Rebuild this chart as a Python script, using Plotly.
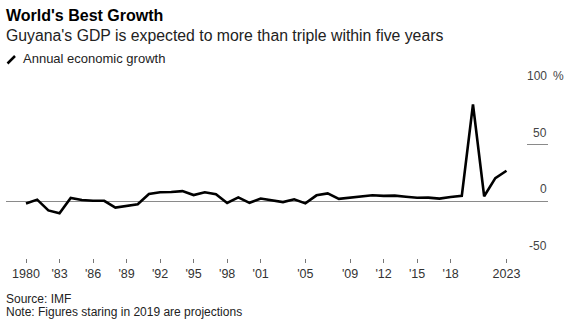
import plotly.graph_objects as go

# ---- data ----
years = list(range(1980, 2024))
growth = [
    -2.0, 1.5, -8.0, -10.5, 3.0, 1.2, 0.5, 0.5, -5.5, -4.0,
    -2.5, 6.5, 8.0, 8.3, 9.0, 5.5, 8.0, 6.2, -1.5, 3.5,
    -1.3, 2.5, 1.2, -0.7, 1.8, -1.8, 5.3, 7.0, 2.2, 3.3,
    4.4, 5.4, 4.8, 5.0, 4.0, 3.2, 3.3, 2.4, 3.8, 4.8,
    85.5, 4.5, 20.5, 27.0,
]
x_tickvals = [1980, 1983, 1986, 1989, 1992, 1995, 1998, 2001, 2005, 2009, 2012, 2015, 2018, 2023]
x_ticktext = ["1980", "'83", "'86", "'89", "'92", "'95", "'98", "'01", "'05", "'09", "'12", "'15", "'18", "2023"]
y_tickvals = [-50, 0, 50, 100]
y_ticktext = ["-50", "0", "50", "100"]
y_unit = "%"

title = "<b>World's Best Growth</b>"
subtitle = "Guyana's GDP is expected to more than triple within five years"
legend_label = "Annual economic growth"
source = "Source: IMF"
note = "Note: Figures staring in 2019 are projections"

# ---- layout geometry (pixels) ----
W, H = 568, 335
L, R = 6, 20
T, B = 88, 77
plot_w = W - L - R
plot_h = H - T - B


def py(y_px):
    return (H - B - y_px) / plot_h


def px(x_px):
    return (x_px - L) / plot_w


FONT = "Liberation Sans, Arial, sans-serif"

fig = go.Figure()
fig.add_trace(go.Scatter(
    x=years, y=growth, mode="lines",
    line=dict(color="#000000", width=2.6),
    showlegend=False, hoverinfo="x+y",
))

annotations = []
for v, lab in zip(y_tickvals, y_ticktext):
    annotations.append(dict(
        x=1, xref="paper", y=v, yref="y", text=lab, showarrow=False,
        xanchor="right", yanchor="middle", yshift=12, borderpad=0,
        font=dict(family=FONT, size=12, color="#444444"),
    ))
annotations.append(dict(
    x=1, xref="paper", y=y_tickvals[-1], yref="y", text=y_unit, showarrow=False,
    xanchor="left", yanchor="middle", yshift=12, xshift=4, borderpad=0,
    font=dict(family=FONT, size=12, color="#444444"),
))
annotations += [
    dict(x=px(5), y=py(15.5), xref="paper", yref="paper", text=title, showarrow=False,
         xanchor="left", yanchor="middle", borderpad=0,
         font=dict(family=FONT, size=16, color="#000000")),
    dict(x=px(5), y=py(36), xref="paper", yref="paper", text=subtitle, showarrow=False,
         xanchor="left", yanchor="middle", borderpad=0,
         font=dict(family=FONT, size=15.8, color="#222222")),
    dict(x=px(21.5), y=py(59), xref="paper", yref="paper", text=legend_label, showarrow=False,
         xanchor="left", yanchor="middle", borderpad=0,
         font=dict(family=FONT, size=13, color="#222222")),
    dict(x=px(5), y=py(299), xref="paper", yref="paper", text=source, showarrow=False,
         xanchor="left", yanchor="middle", borderpad=0,
         font=dict(family=FONT, size=12, color="#222222")),
    dict(x=px(5), y=py(312), xref="paper", yref="paper", text=note, showarrow=False,
         xanchor="left", yanchor="middle", borderpad=0,
         font=dict(family=FONT, size=12, color="#222222")),
]

shapes = [dict(
    type="line", xref="paper", yref="paper",
    x0=px(7.5), y0=py(63.5), x1=px(15), y1=py(56),
    line=dict(color="#000000", width=2.5),
)]

fig.update_layout(
    width=W, height=H,
    margin=dict(l=L, r=R, t=T, b=B, pad=0),
    paper_bgcolor="#ffffff", plot_bgcolor="#ffffff",
    annotations=annotations, shapes=shapes,
    font=dict(family=FONT),
    xaxis=dict(
        range=[1980 - 20 / 11.174, 2023 + 41.5 / 11.174],
        tickvals=x_tickvals, ticktext=x_ticktext,
        ticks="outside", ticklen=4, tickwidth=1, tickcolor="#777777",
        showgrid=False, zeroline=False, showline=False,
        tickfont=dict(family=FONT, size=12.5, color="#333333"),
        fixedrange=True,
    ),
    yaxis=dict(
        range=[-50, 100], side="right",
        tickvals=y_tickvals, showticklabels=False,
        ticks="inside", ticklen=21, tickwidth=1, tickcolor="#8a8a8a",
        showgrid=False, zeroline=True, zerolinecolor="#8a8a8a", zerolinewidth=1,
        showline=False, fixedrange=True,
    ),
)

fig.write_html("out.html", config={"displayModeBar": False})
